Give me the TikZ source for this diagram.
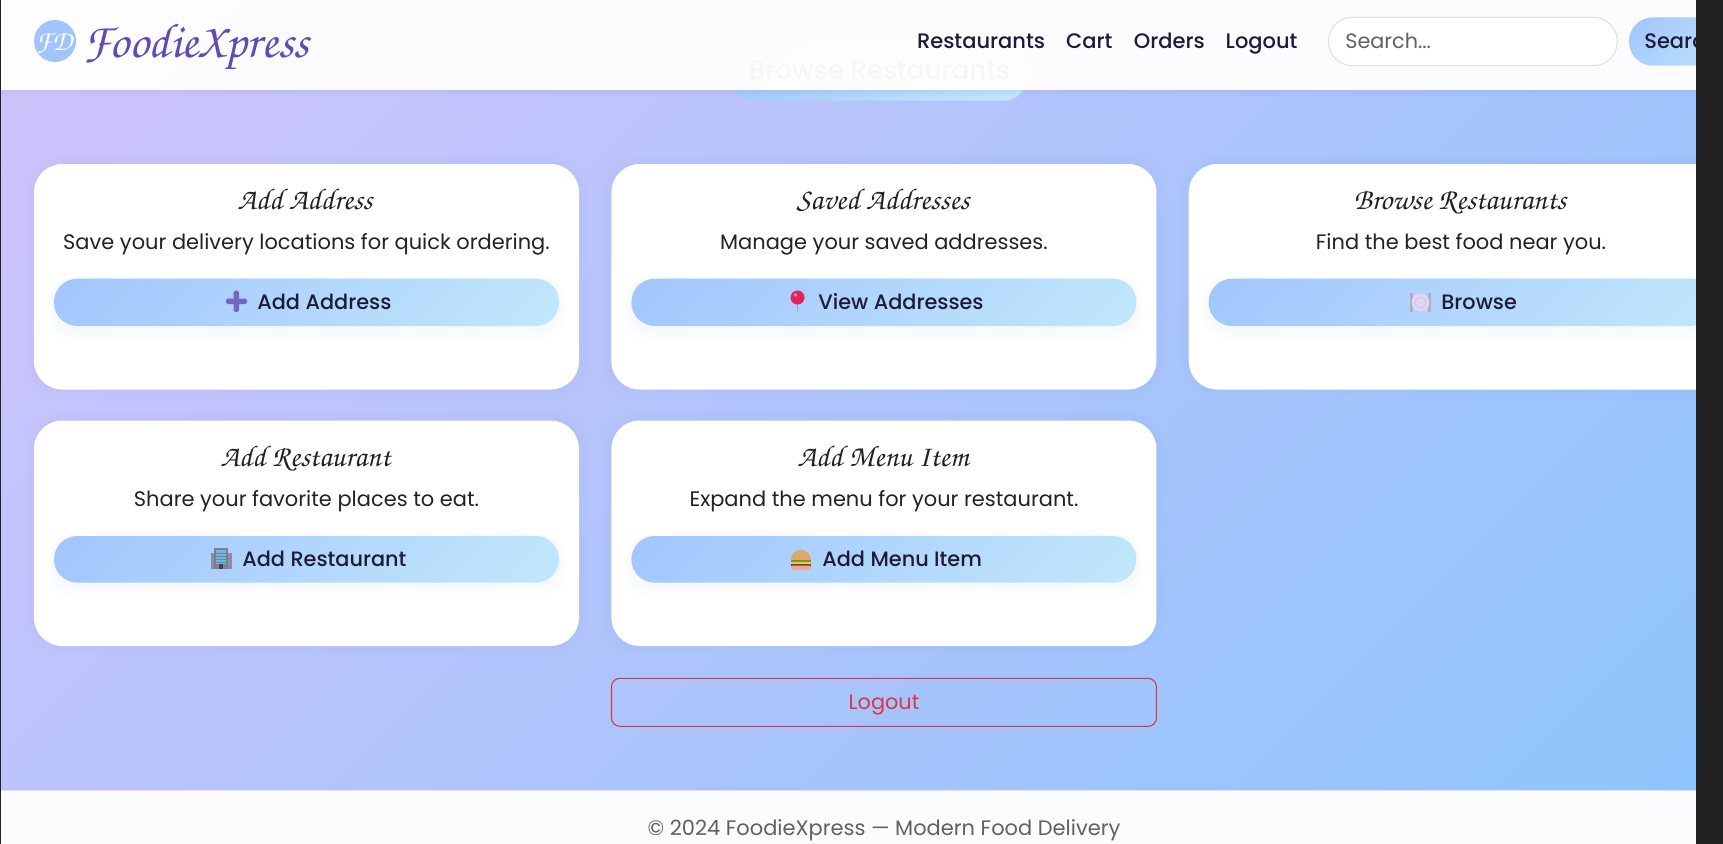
\documentclass[tikz,border=0pt]{standalone}
\usepackage{fontspec}
\setmainfont{Poppins}
\newfontfamily\popm{Poppins Medium}
\newfontfamily\scr{TeX Gyre Chorus}
\usetikzlibrary{calc}
\definecolor{bgA}{HTML}{E0C3FC}
\definecolor{bgB}{HTML}{8EC5FC}
\definecolor{btnA}{HTML}{A1C4FD}
\definecolor{btnB}{HTML}{C2E9FB}
\definecolor{ink}{HTML}{1E1B3A}
\definecolor{para}{HTML}{222222}
\definecolor{brand}{HTML}{5F4BB6}
\definecolor{red1}{HTML}{DC3545}
\definecolor{band}{HTML}{212121}
\tikzset{
  x=0.6pt,y=-0.6pt,
  btnshade/.style={top color=btnA,bottom color=btnB,shading=axis,shading angle=45},
  cardfill/.style={fill=white,rounded corners=17pt},
  title/.style={inner sep=0pt,anchor=base,text=para,font=\scr\fontsize{18}{20}\selectfont},
  para/.style={inner sep=0pt,anchor=base,text=para,font=\fontsize{12.57}{14}\selectfont},
  btntext/.style={inner sep=0pt,anchor=base west,text=ink,font=\popm\fontsize{12.5}{14}\selectfont},
  navtext/.style={inner sep=0pt,anchor=base west,text=ink,font=\popm\fontsize{12.6}{14}\selectfont},
}
% gradient pill: x1, y1, x2, y2, corner radius
\newcommand{\gradpill}[5]{%
  \begin{scope}
    \clip[rounded corners=#5] (#1,#2) rectangle (#3,#4);
    \pgfmathsetmacro{\pillspan}{1.414*((#3-#1)+(#4-#2))-(#4-#2)}
    \pgfmathsetmacro{\pillmid}{(#1+#3)/2}
    \shade[btnshade] ({\pillmid-\pillspan/2},#2) rectangle ({\pillmid+\pillspan/2},#4);
  \end{scope}
}
% card: x-left, y-top, y-button-top, y-button-bottom
\newcommand{\cardbox}[4]{%
  \foreach \s in {22,16,10,5}{\draw[line width=\s*0.6pt,color=brand,opacity=0.008,rounded corners=17pt] (#1,#2) rectangle ({#1+545},#2+225.5);}
  \fill[cardfill] (#1,#2) rectangle ({#1+545},#2+225.5);
  \foreach \s in {12,8,4}{\fill[color=btnA,opacity=0.03,rounded corners=14pt] ({#1+20-\s/2},{#3-1}) rectangle ({#1+525+\s/2},{#4+2+\s});}
  \gradpill{#1+20}{#3}{#1+525}{#4}{14pt}
}
\begin{document}
\begin{tikzpicture}
\useasboundingbox (0,0) rectangle (1723,843);
% page gradient
\begin{scope}
  \clip (0,0) rectangle (1696,846);
  \shade[top color=bgA,bottom color=bgB,shading=axis,shading angle=45] (0,-1129) rectangle (1696,1411);
\end{scope}
% element scrolled behind the header
\gradpill{731}{46}{1027}{100.7}{14pt}
\node[inner sep=0pt,anchor=base,text=ink,font=\popm\fontsize{15.7}{17}\selectfont] (ghost) at (879.5,79) {Browse Restaurants};
% header and footer
\foreach \s in {6,4,2}{\fill[color=brand,opacity=0.025] (0,90) rectangle (1696,90+\s);}
\fill[white,opacity=0.96] (0,0) rectangle (1696,90);
\fill[white,opacity=0.96] (0,790) rectangle (1696,846);
\fill[color=bgA!60!white] (0,789.5) rectangle (1696,790.5);
% logo
\fill[btnA] (55,41) circle (21);
\node[inner sep=0pt,anchor=base,text=white,font=\scr\fontsize{17}{18}\selectfont] (logomark) at (54,50) {FD};
\node[inner sep=0pt,anchor=base west,text=brand,font=\scr\fontsize{29.2}{32}\selectfont] (logotext) at (83,57) {FoodieXpress};
% nav
\node[navtext] (nav1) at (916.7,48.3) {Restaurants};
\node[navtext] (nav2) at (1065.8,48.3) {Cart};
\node[navtext] (nav3) at (1133.5,48.3) {Orders};
\node[navtext] (nav4) at (1225.4,48.3) {Logout};
\draw[color=gray!25,line width=0.6pt,fill=white,rounded corners=14.4pt] (1328.4,17.3) rectangle (1617.3,65.7);
\node[inner sep=0pt,anchor=base west,text=black!62,font=\fontsize{12.45}{14}\selectfont] (search) at (1345,48.3) {Search...};
\gradpill{1629}{17.3}{1745}{65.7}{14.4pt}
\node[navtext] (searchbtn) at (1644,48.3) {Search};
% cards
\cardbox{34}{164}{278.7}{326}
\cardbox{611.4}{164}{278.7}{326}
\cardbox{1188.7}{164}{278.7}{326}
\cardbox{34}{420.5}{536}{582.7}
\cardbox{611.4}{420.5}{536}{582.7}
\node[title] (t1) at (305,209) {Add Address};
\node[para] (p1) at (306.5,249) {Save your delivery locations for quick ordering.};
\node[btntext] (b1) at (257,309.2) {Add Address};
\node[title] (t2) at (883,209) {Saved Addresses};
\node[para] (p2) at (884,249) {Manage your saved addresses.};
\node[btntext] (b2) at (818,309.2) {View Addresses};
\node[title] (t3) at (1460,209) {Browse Restaurants};
\node[para] (p3) at (1461,249) {Find the best food near you.};
\node[btntext] (b3) at (1441,309.2) {Browse};
\node[title] (t4) at (305.5,466.7) {Add Restaurant};
\node[para] (p4) at (306.5,506) {Share your favorite places to eat.};
\node[btntext] (b4) at (242,566) {Add Restaurant};
\node[title] (t5) at (883,466.7) {Add Menu Item};
\node[para] (p5) at (884,506) {Expand the menu for your restaurant.};
\node[btntext] (b5) at (822,566) {Add Menu Item};
% plus icon
\fill[color=brand!85!white,rounded corners=1pt] (233.5,290.7) rectangle (239,312);
\fill[color=brand!85!white,rounded corners=1pt] (226,298.5) rectangle (247,304);
% pin icon
\draw[color=gray!70,line width=0.9pt] (797.5,300) -- (797.5,312);
\fill[color={rgb,255:red,224;green,36;blue,94}] (797.5,297.5) circle (7);
\fill[color=white,opacity=0.45] (795.5,295) circle (1.8);
% plate icon
\fill[color={rgb,255:red,176;green,170;blue,195}] (1410,293) rectangle (1413,312);
\fill[color={rgb,255:red,176;green,170;blue,195}] (1428,293) rectangle (1431,312);
\fill[color={rgb,255:red,226;green,214;blue,244}] (1420.5,302.5) circle (9);
\draw[color={rgb,255:red,205;green,195;blue,232},line width=0.5pt] (1420.5,302.5) circle (5.5);
% building icon
\fill[color={rgb,255:red,140;green,140;blue,165}] (210.5,553) rectangle (231.5,569.3);
\fill[color={rgb,255:red,125;green,125;blue,150}] (214,547.7) rectangle (228,569.3);
\fill[color={rgb,255:red,95;green,190;blue,225}] (216,550) rectangle (226,564);
\fill[color={rgb,255:red,70;green,65;blue,80}] (219,564) rectangle (223,569.3);
\foreach \yy in {553,556,559,562}{\draw[color={rgb,255:red,125;green,125;blue,150},line width=0.35pt] (216,\yy) -- (226,\yy);}
% burger icon
\fill[color={rgb,255:red,222;green,168;blue,105}] (790.8,560) arc[start angle=180,end angle=360,radius=10.1] -- cycle;
\fill[color={rgb,255:red,110;green,150;blue,60}] (790.6,559.8) rectangle (811,562);
\fill[color={rgb,255:red,245;green,200;blue,60}] (791.5,562) rectangle (810.5,563.5);
\fill[color={rgb,255:red,120;green,70;blue,50}] (791,563.5) rectangle (810.8,565.5);
\fill[color={rgb,255:red,240;green,165;blue,140},rounded corners=1pt] (791,565.5) rectangle (810.8,569.5);
% logout
\draw[color=red1,line width=0.65pt,rounded corners=5pt] (611.5,678.3) rectangle (1156.4,726.3);
\node[inner sep=0pt,anchor=base,text=red1,font=\fontsize{12.5}{14}\selectfont] (logout) at (884,709.3) {Logout};
% footer text
\node[inner sep=0pt,anchor=base,text=black!62,font=\fontsize{12.58}{14}\selectfont] (footer) at (884,835) {© 2024 FoodieXpress — Modern Food Delivery};
% window edges
\fill[band] (1696,0) rectangle (1726,846);
\fill[band] (-2,0) rectangle (1.2,846);
\end{tikzpicture}
\end{document}
